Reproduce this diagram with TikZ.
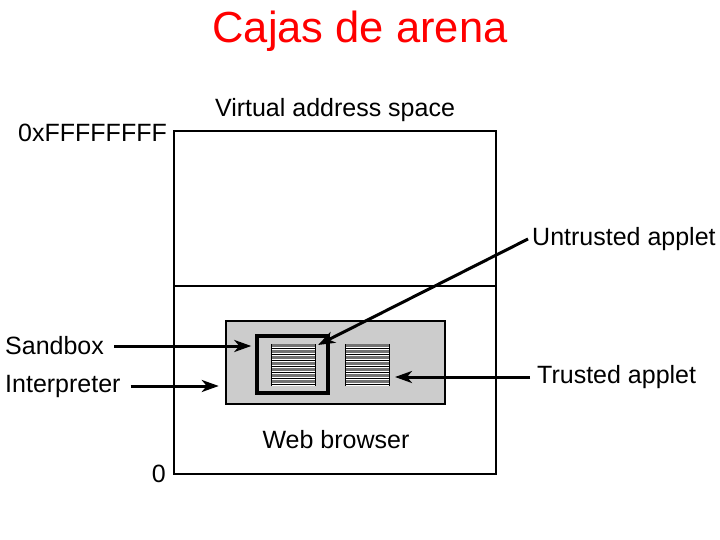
\documentclass[tikz,border=0pt]{standalone}
\usepackage{fontspec}
\setmainfont{Liberation Sans}
\usetikzlibrary{arrows.meta,calc}
\tikzset{
  lbl/.style={font=\fontsize{25}{29}\selectfont, inner sep=0pt},
  arr/.style={line width=3pt, -{Stealth[length=17pt,width=12pt,inset=5pt]}},
  frame/.style={draw=black, line width=2pt},
}
\newcommand{\applet}[2]{%
  \fill[white] (#1,#2) rectangle ++(44,42);
  \foreach \k in {0,...,6} {
    \draw[black!55, line width=2.4pt] (#1,#2+1.5+6*\k) -- ++(44,0);
    \draw[black, line width=0.6pt] (#1,#2+4.5+6*\k) -- ++(44,0);
  }
  \draw[black, line width=0.8pt] (#1,#2) -- ++(0,42) (#1+44,#2) -- ++(0,42);
}
\begin{document}
\begin{tikzpicture}[x=1pt,y=-1pt]
\useasboundingbox (0,0) rectangle (720,540);
% title
\node[font=\fontsize{43.5}{50}\selectfont, text=red, inner sep=0pt] (title) at (360,31) {Cajas de arena};
% outer memory box
\draw[frame] (174,131) rectangle (496,474);
\draw[line width=2pt] (174,286) -- (496,286);
\node[lbl] (vas) at (335,110) {Virtual address space};
\node[lbl, anchor=east] (top) at (167,133) {0xFFFFFFFF};
\node[lbl, anchor=east] (zero) at (166,474) {0};
% web browser
\node[draw=black, fill=black!20, line width=2.5pt, minimum width=219pt, minimum height=83pt, inner sep=0pt] (browser) at (335.5,362.5) {};
\node[draw=black, line width=3.5pt, minimum width=71pt, minimum height=57pt, inner sep=0pt] (sandbox) at (292.5,364.5) {};
\applet{271}{344}
\applet{345}{344}
\coordinate (ua) at (318,345);
\coordinate (ta) at (395,377);
\node[lbl] (wb) at (336,440) {Web browser};
% labels
\node[lbl, anchor=west] (lsand) at (5,346) {Sandbox};
\node[lbl, anchor=west] (linterp) at (5,386) {Interpreter};
\node[lbl, anchor=west] (luntr) at (532,239) {Untrusted applet};
\node[lbl, anchor=west] (ltr) at (537,377) {Trusted applet};
% arrows
\draw[arr] ($(lsand.east)+(10,0)$) -- ($(sandbox.west |- lsand.east)+(-4,0)$);
\draw[arr] ($(linterp.east)+(10,0)$) -- ($(browser.west |- linterp.east)+(-6,0)$);
\draw[arr] ($(luntr.west)+(-4,0)$) -- (ua);
\draw[arr] ($(ltr.west)+(-7,0)$) -- (ta);
\end{tikzpicture}
\end{document}
